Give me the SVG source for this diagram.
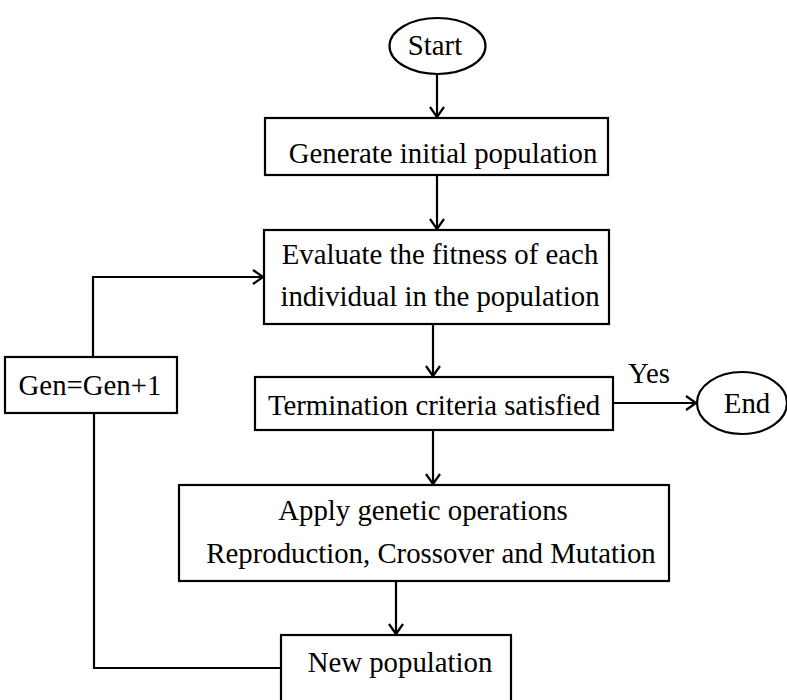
<svg xmlns="http://www.w3.org/2000/svg" width="787" height="700" viewBox="0 0 787 700">
<style>
.box{fill:#fff;stroke:#000;stroke-width:2.2}
.t{font-family:"Liberation Serif","Times New Roman",serif;font-size:28.8px;fill:#000}
.c{fill:none;stroke:#000;stroke-width:2.2}
</style>
<defs>
<marker id="ah" markerUnits="userSpaceOnUse" markerWidth="14" markerHeight="18" refX="11" refY="8" orient="auto">
<path d="M1,1 L11,8 L1,15" fill="none" stroke="#000" stroke-width="2.2"/>
</marker>
</defs>
<rect width="787" height="700" fill="#fff"/>
<g id="connectors">
<line class="c" x1="437" y1="74" x2="437" y2="117" marker-end="url(#ah)"/>
<line class="c" x1="437" y1="175" x2="437" y2="229" marker-end="url(#ah)"/>
<line class="c" x1="433" y1="324" x2="433" y2="376" marker-end="url(#ah)"/>
<line class="c" x1="433" y1="430" x2="433" y2="484" marker-end="url(#ah)"/>
<line class="c" x1="613" y1="403" x2="696" y2="403" marker-end="url(#ah)"/>
<line class="c" x1="396" y1="581" x2="396" y2="634" marker-end="url(#ah)"/>
<polyline class="c" points="281,668 94,668 94,413"/>
<polyline class="c" points="93,357 93,277 263,277" marker-end="url(#ah)"/>
<text class="t" x="628" y="383">Yes</text>
</g>
<g id="start">
<ellipse class="box" cx="437.5" cy="46" rx="48" ry="28"/>
<text class="t" x="435" y="55" text-anchor="middle">Start</text>
</g>
<g id="generate">
<rect class="box" x="265" y="118" width="343" height="57"/>
<text class="t" x="443" y="163" text-anchor="middle">Generate initial population</text>
</g>
<g id="evaluate">
<rect class="box" x="264" y="230" width="345" height="94"/>
<text class="t" x="440" y="264" text-anchor="middle">Evaluate the fitness of each</text>
<text class="t" x="440" y="306" text-anchor="middle">individual in the population</text>
</g>
<g id="termination">
<rect class="box" x="255" y="377" width="358" height="53"/>
<text class="t" x="434" y="415" text-anchor="middle">Termination criteria satisfied</text>
</g>
<g id="end">
<ellipse class="box" cx="742" cy="403" rx="45" ry="31"/>
<text class="t" x="747" y="413" text-anchor="middle">End</text>
</g>
<g id="apply">
<rect class="box" x="179" y="485" width="490" height="96"/>
<text class="t" x="423" y="520" text-anchor="middle">Apply genetic operations</text>
<text class="t" x="431" y="563" text-anchor="middle">Reproduction, Crossover and Mutation</text>
</g>
<g id="gen">
<rect class="box" x="5" y="357" width="172" height="56"/>
<text class="t" x="90" y="395" text-anchor="middle">Gen=Gen+1</text>
</g>
<g id="newpop">
<rect class="box" x="281" y="635" width="230" height="75"/>
<text class="t" x="400" y="672" text-anchor="middle">New population</text>
</g>
</svg>
